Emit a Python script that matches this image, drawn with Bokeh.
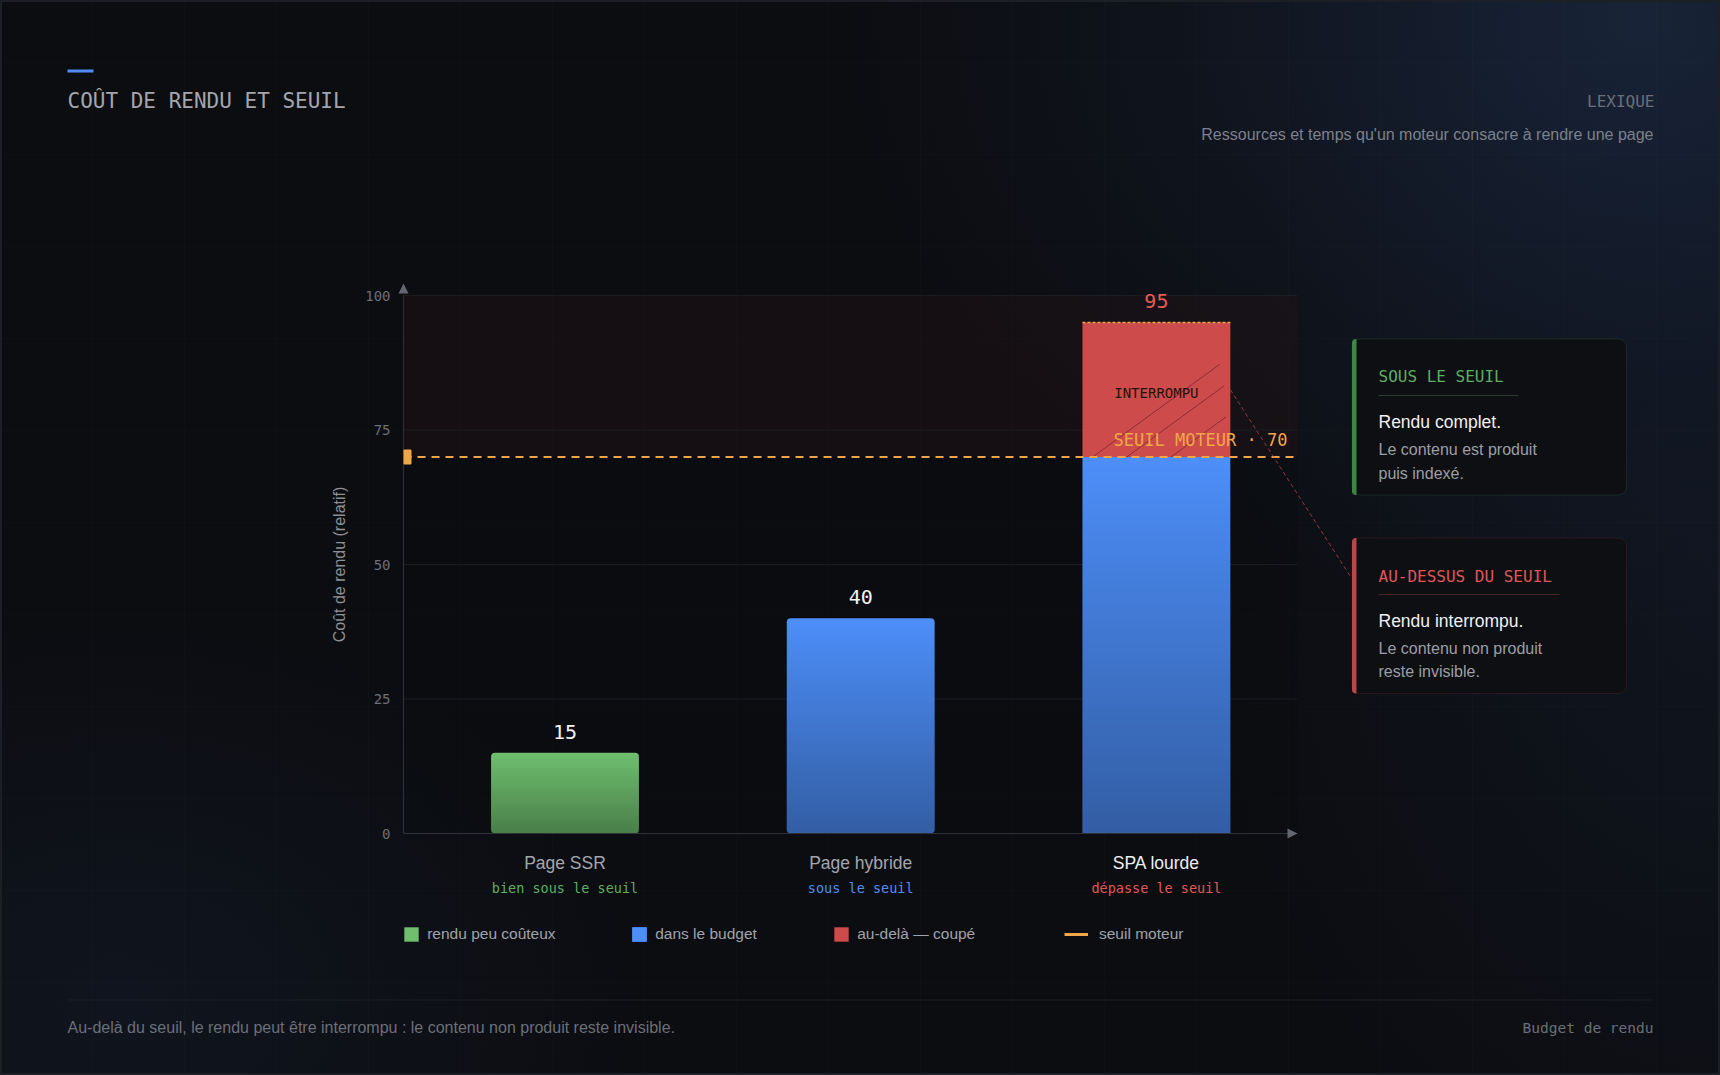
import numpy as np
from bokeh.plotting import figure
from bokeh.models import (Range1d, FixedTicker, ColumnDataSource, Label, LabelSet,
                          BoxAnnotation, Arrow, NormalHead, Legend, LegendItem)
from bokeh.core.properties import value, field
from bokeh.embed import file_html
from bokeh.resources import INLINE

# ---------------- data ----------------
categories = ["Page SSR", "Page hybride", "SPA lourde"]
verdicts = ["bien sous le seuil", "sous le seuil", "dépasse le seuil"]
render_cost = [15, 40, 95]
cost_tier = ["léger", "budget", "budget"]
engine_threshold = 70
y_ticks = [0, 25, 50, 75, 100]
legend_labels = ["rendu peu coûteux", "dans le budget", "au-delà — coupé", "seuil moteur"]

# ---------------- page geometry (pixels) ----------------
W, H = 1720, 1075
FL, FR, FT, FB = 403, 1297, 295, 833          # chart area edges on the page
Y_MAX = 100
PX_Y = (FB - FT) / Y_MAX                     # pixels per cost unit
PX_X = 295.7                                 # pixels per category slot
X0_PX = 564.5                                # page x of the first category
BAR_W = 0.5

X_START = (FL - X0_PX) / PX_X
X_END = (FR - X0_PX) / PX_X

MONO = "DejaVu Sans Mono"
SANS = "Liberation Sans"

GREEN = "#6fbf6f"
BLUE = "#4d8ef8"
RED = "#cd4b4b"
ORANGE = "#f0a748"
AXIS = "#2e3137"

# the frame covers the whole page; the chart area sits inside it
p = figure(width=W, height=H,
           x_range=Range1d(-X0_PX / PX_X, (W - X0_PX) / PX_X),
           y_range=Range1d(-(H - FB) / PX_Y, Y_MAX + FT / PX_Y),
           output_backend="svg", toolbar_location=None,
           min_border_left=0, min_border_right=0, min_border_top=0, min_border_bottom=0)

p.border_fill_alpha = 0
p.background_fill_alpha = 0
p.outline_line_color = None
p.styles = {
    "background": (
        "repeating-linear-gradient(90deg, rgba(255,255,255,0.012) 0 1px, rgba(0,0,0,0) 1px 92px),"
        "repeating-linear-gradient(0deg, rgba(255,255,255,0.012) 0 1px, rgba(0,0,0,0) 1px 92px),"
        "radial-gradient(800px 600px at 1640px 20px, rgba(34,54,88,0.52), rgba(24,38,62,0.24) 60%, rgba(12,13,17,0) 100%),"
        "radial-gradient(520px 700px at 1720px 560px, rgba(24,38,62,0.32), rgba(12,13,17,0) 100%),"
        "radial-gradient(520px 380px at 120px 1000px, rgba(24,38,62,0.30), rgba(12,13,17,0) 100%),"
        "#0c0d11"
    ),
    "box-shadow": "inset 0 0 0 2px #1c1f25",
}

# chart area background and the band above the engine threshold
p.add_layout(BoxAnnotation(left=X_START, right=X_END, bottom=0, top=Y_MAX,
                           fill_color="#0b0c0f", line_color=None, level="image"))
p.add_layout(BoxAnnotation(left=X_START, right=X_END, bottom=engine_threshold, top=Y_MAX,
                           fill_color="#d04b4b", fill_alpha=0.05, line_color=None, level="image"))

# ---------------- axes & grid ----------------
p.xgrid.visible = False
p.ygrid.visible = False
grid_y = [t for t in y_ticks if t > 0]
p.segment(x0=[X_START] * len(grid_y), x1=[X_END] * len(grid_y), y0=grid_y, y1=grid_y,
          line_color="#1b1d22", line_width=1, level="underlay")

yax = p.yaxis[0]
yax.fixed_location = X_START
yax.bounds = (0, Y_MAX)
yax.ticker = FixedTicker(ticks=y_ticks)
yax.major_tick_line_color = None
yax.minor_tick_line_color = None
yax.major_tick_out = 0
yax.major_label_standoff = 13
yax.major_label_text_font = MONO
yax.major_label_text_font_size = "14px"
yax.major_label_text_color = "#6b6f78"
yax.axis_line_color = AXIS
yax.axis_label = "Coût de rendu (relatif)"
yax.axis_label_text_font = SANS
yax.axis_label_text_font_size = "16px"
yax.axis_label_text_font_style = "normal"
yax.axis_label_text_color = "#8d9097"
yax.axis_label_standoff = 14

xax = p.xaxis[0]
xax.fixed_location = 0
xax.bounds = (X_START, X_END)
xax.ticker = FixedTicker(ticks=[])
xax.major_label_text_font_size = "0px"
xax.major_tick_line_color = None
xax.minor_tick_line_color = None
xax.axis_line_color = AXIS

# arrow heads at the ends of both axes
p.add_layout(Arrow(x_start=X_START, y_start=Y_MAX, x_end=X_START, y_end=Y_MAX + 12 / PX_Y,
                   line_alpha=0, end=NormalHead(size=10, fill_color="#62666e", line_color=None)))
p.add_layout(Arrow(x_start=X_END - 0.1, y_start=0, x_end=X_END, y_end=0,
                   line_alpha=0, end=NormalHead(size=10, fill_color="#62666e", line_color=None)))

# ---------------- bars ----------------
xs = list(range(len(categories)))
within = [min(c, engine_threshold) for c in render_cost]
beyond = [max(c - engine_threshold, 0) for c in render_cost]


def part(keep):
    idx = [i for i in xs if keep(i)]
    return ColumnDataSource(dict(x=idx, top=[within[i] for i in idx]))


light_src = part(lambda i: cost_tier[i] == "léger")
ok_src = part(lambda i: cost_tier[i] == "budget" and beyond[i] == 0)
cut_src = part(lambda i: cost_tier[i] == "budget" and beyond[i] > 0)
over_idx = [i for i in xs if beyond[i] > 0]
over_src = ColumnDataSource(dict(x=over_idx,
                                 bottom=[engine_threshold for i in over_idx],
                                 top=[render_cost[i] for i in over_idx]))

r_light = p.vbar(x="x", top="top", width=BAR_W, source=light_src,
                 fill_color=GREEN, line_color=None, border_radius=4)
r_ok = p.vbar(x="x", top="top", width=BAR_W, source=ok_src,
              fill_color=BLUE, line_color=None, border_radius=4)
r_cut = p.vbar(x="x", top="top", width=BAR_W, source=cut_src,
               fill_color=BLUE, line_color=None)
r_over = p.vbar(x="x", bottom="bottom", top="top", width=BAR_W, source=over_src,
                fill_color=RED, line_color=None)

# vertical shading: darker towards the base of each in-budget bar
rows = 96
shade = np.zeros((rows, 1), dtype=np.uint32)
shade_px = shade.view(np.uint8).reshape(rows, 1, 4)
shade_px[:, 0, 3] = (np.linspace(0.34, 0.0, rows) * 255).astype(np.uint8)
p.image_rgba(image=[shade for _ in xs], x=[i - BAR_W / 2 for i in xs], y=[0 for _ in xs],
             dw=[BAR_W for _ in xs], dh=within, level="glyph")

# diagonal strokes in the cut-off part (offsets in bar widths)
stroke_from = [0.07, 0.30, 0.60]
stroke_to = [0.93, 0.96, 0.97]
slope = 0.73 * (BAR_W * PX_X) / PX_Y
sx0, sx1, sy0, sy1 = [], [], [], []
for i in over_idx:
    for a, b in zip(stroke_from, stroke_to):
        sx0.append(i - BAR_W / 2 + a * BAR_W)
        sx1.append(i - BAR_W / 2 + b * BAR_W)
        sy0.append(engine_threshold)
        sy1.append(engine_threshold + min((b - a) * slope, beyond[i] * 0.72))
p.segment(x0=sx0, x1=sx1, y0=sy0, y1=sy1, line_color="#7c2329", line_alpha=0.75, line_width=1)

# dashed cap on the overflowing bar
p.segment(x0=[i - BAR_W / 2 for i in over_idx], x1=[i + BAR_W / 2 for i in over_idx],
          y0=[render_cost[i] for i in over_idx], y1=[render_cost[i] for i in over_idx],
          line_color=ORANGE, line_width=1.5, line_dash="3 2")

p.text(x=over_idx, y=[engine_threshold + beyond[i] / 2 for i in over_idx],
       text=["INTERROMPU" for _ in over_idx], text_font=value(MONO), text_font_size="14px",
       text_color="#26110f", text_align="center", text_baseline="middle", y_offset=3)

# threshold line + marker on the y axis
p.segment(x0=[X_START], x1=[X_END], y0=[engine_threshold], y1=[engine_threshold],
          line_color=ORANGE, line_width=2, line_dash="8 6")
p.add_layout(BoxAnnotation(left=X_START, right=X_START + 8 / PX_X,
                           bottom=engine_threshold - 7.5 / PX_Y, top=engine_threshold + 7.5 / PX_Y,
                           fill_color=ORANGE, fill_alpha=1, line_color=None, border_radius=1))
p.add_layout(Label(x=X_END, y=engine_threshold, x_offset=-10, y_offset=7,
                   text=f"SEUIL MOTEUR · {engine_threshold}", text_font=MONO,
                   text_font_size="17px", text_color=ORANGE, text_align="right",
                   text_baseline="bottom"))

# values above bars
val_src = ColumnDataSource(dict(x=xs, y=render_cost, text=[str(c) for c in render_cost],
                                color=["#f2f2f2" if b == 0 else "#e35a5a" for b in beyond]))
p.add_layout(LabelSet(x="x", y="y", text="text", source=val_src, y_offset=14,
                      text_font=value(MONO), text_font_size="20px", text_color=field("color"),
                      text_align="center", text_baseline="bottom"))

# category names and verdicts under the axis
cat_src = ColumnDataSource(dict(x=xs, name=categories, verdict=verdicts,
                                ncolor=["#a3a6ad" if b == 0 else "#eeeff1" for b in beyond],
                                vcolor=["#5fae62", "#4d8ef8", "#e35656"]))
p.add_layout(LabelSet(x="x", y=H - 862, y_units="screen", text="name", source=cat_src,
                      text_font=value(SANS), text_font_size="17.5px", text_color=field("ncolor"),
                      text_align="center", text_baseline="middle"))
p.add_layout(LabelSet(x="x", y=H - 887, y_units="screen", text="verdict", source=cat_src,
                      text_font=value(MONO), text_font_size="13.5px", text_color=field("vcolor"),
                      text_align="center", text_baseline="middle"))

# ---------------- legend (one entry per block, placed along a row) ----------------
r_limit = p.line(x=np.array([np.nan, np.nan]), y=np.array([np.nan, np.nan]),
                 line_color=ORANGE, line_width=3)
legend_rows = [
    (legend_labels[0], [r_light], 402.2, 18, 7),
    (legend_labels[1], [r_ok, r_cut], 630.2, 18, 7),
    (legend_labels[2], [r_over], 832.2, 18, 7),
    (legend_labels[3], [r_limit], 1064, 24, 11),
]
for label, rends, left, gw, standoff in legend_rows:
    p.add_layout(Legend(items=[LegendItem(label=label, renderers=rends)],
                        orientation="horizontal", location=(left, H - 942.5),
                        glyph_width=gw, glyph_height=18, label_height=18,
                        label_standoff=standoff, padding=0, margin=0,
                        border_line_color=None, background_fill_alpha=0,
                        label_text_font=SANS, label_text_font_size="15.5px",
                        label_text_color="#a0a3aa"))


# ---------------- page furniture ----------------
def put(text, X, Y, font, size, color, align="left", baseline="middle"):
    p.add_layout(Label(x=X, y=H - Y, x_units="screen", y_units="screen", text=text,
                       text_font=font, text_font_size=f"{size}px", text_color=color,
                       text_align=align, text_baseline=baseline))


def box(X0, Y0, X1, Y1, fill, line=None, radius=0, alpha=1.0):
    p.add_layout(BoxAnnotation(left=X0, right=X1, top=H - Y0, bottom=H - Y1,
                               left_units="screen", right_units="screen",
                               top_units="screen", bottom_units="screen",
                               fill_color=fill, fill_alpha=alpha, line_color=line,
                               line_width=1, border_radius=radius, level="annotation"))


box(67, 69, 93, 72, "#4f8ef7")
put("COÛT DE RENDU ET SEUIL", 67, 100, MONO, 21, "#a3a6ad")
put("LEXIQUE", 1654, 101, MONO, 16, "#6b6f78", align="right")
put("Ressources et temps qu'un moteur consacre à rendre une page", 1653, 134, SANS, 16,
    "#7d818a", align="right")

# side notes
box(1351.5, 338.5, 1626, 494.5, "#0e0f12", line="#335f3a", radius=8)
box(1351.5, 338.5, 1356, 494.5, "#3e8544", radius=(4, 0, 0, 4))
put("SOUS LE SEUIL", 1378, 376, MONO, 16, "#5fae62")
box(1378, 394.5, 1518, 395.5, "#2a3c2d")
put("Rendu complet.", 1378, 421, SANS, 17.5, "#f0f0f2")
put("Le contenu est produit", 1378, 449, SANS, 16, "#9b9ea6")
put("puis indexé.", 1378, 472.5, SANS, 16, "#9b9ea6")

box(1351.5, 537.5, 1626, 693, "#0e0f12", line="#6b2e32", radius=8)
box(1351.5, 537.5, 1356, 693, "#b8474a", radius=(4, 0, 0, 4))
put("AU-DESSUS DU SEUIL", 1378, 575.5, MONO, 16, "#e05658")
box(1378, 593.5, 1559, 594.5, "#472427")
put("Rendu interrompu.", 1378, 620, SANS, 17.5, "#f0f0f2")
put("Le contenu non produit", 1378, 647.5, SANS, 16, "#9b9ea6")
put("reste invisible.", 1378, 670.5, SANS, 16, "#9b9ea6")

# dashed connector from the cut-off part to its note
for i in over_idx:
    p.add_layout(Arrow(x_start=i + BAR_W / 2, y_start=engine_threshold + beyond[i] / 2,
                       x_end=1350, y_end=H - 576, end_units="screen", end=None,
                       line_color="#c34a4e", line_alpha=0.7, line_width=1, line_dash="4 3"))

# footer
box(67, 999, 1653, 1000, "#1d1f24")
put("Au-delà du seuil, le rendu peut être interrompu : le contenu non produit reste invisible.",
    67, 1027, SANS, 16, "#6b6f78")
put("Budget de rendu", 1653, 1027, MONO, 14.5, "#6b6f78", align="right")

open("out.html", "w").write(file_html(p, INLINE))
